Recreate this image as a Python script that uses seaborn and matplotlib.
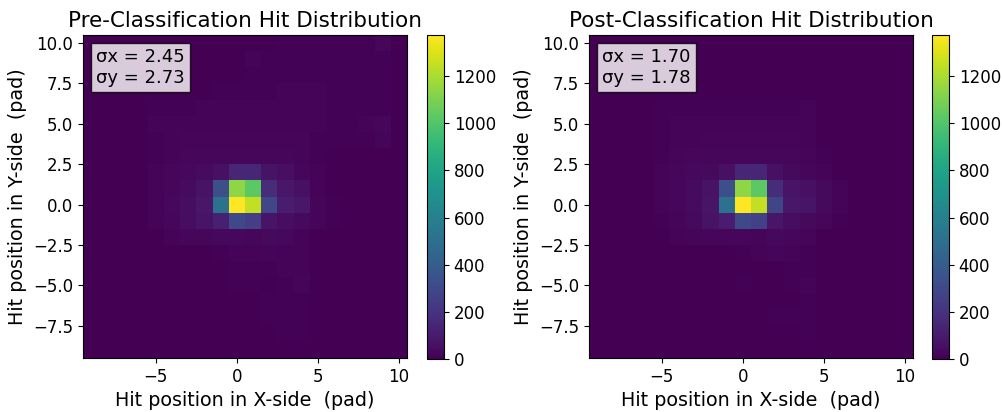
import matplotlib
matplotlib.use("Agg")
import matplotlib.pyplot as plt
import numpy as np
import seaborn as sns

# bin centres (pads); rows of the count tables run from y=10 (top) down to y=-9
X_CENTERS = list(range(-9, 11))
Y_CENTERS = list(range(10, -10, -1))

PRE_COUNTS = [
    [0, 0, 0, 0, 0, 0, 0, 0, 0, 0, 0, 0, 6, 6, 6, 6, 6, 6, 22, 0],
    [0, 0, 0, 0, 0, 0, 0, 0, 0, 0, 12, 6, 8, 8, 8, 6, 6, 8, 8, 0],
    [0, 0, 0, 0, 0, 0, 0, 0, 0, 0, 8, 8, 8, 8, 8, 8, 8, 8, 8, 0],
    [0, 0, 0, 0, 0, 0, 0, 0, 6, 6, 8, 8, 12, 12, 12, 8, 8, 10, 10, 0],
    [0, 0, 0, 0, 10, 10, 10, 12, 12, 12, 12, 12, 12, 12, 12, 6, 8, 10, 10, 0],
    [0, 0, 0, 0, 14, 14, 14, 14, 14, 14, 14, 14, 14, 14, 14, 6, 8, 14, 22, 0],
    [0, 0, 0, 0, 8, 16, 18, 18, 18, 18, 18, 18, 18, 18, 8, 6, 6, 8, 18, 0],
    [0, 0, 0, 0, 8, 16, 25, 25, 22, 25, 25, 25, 25, 20, 8, 4, 4, 4, 4, 0],
    [0, 0, 0, 0, 12, 22, 30, 40, 55, 150, 150, 65, 50, 25, 12, 4, 0, 0, 0, 0],
    [0, 0, 0, 0, 12, 22, 40, 65, 330, 1140, 1030, 170, 85, 55, 16, 4, 0, 0, 0, 0],
    [0, 0, 0, 0, 12, 30, 45, 85, 520, 1375, 1250, 290, 105, 85, 20, 6, 0, 0, 0, 0],
    [0, 0, 0, 0, 12, 25, 45, 75, 120, 300, 250, 75, 45, 35, 20, 8, 0, 0, 0, 0],
    [0, 0, 0, 0, 4, 16, 25, 25, 30, 30, 25, 35, 30, 16, 4, 0, 0, 0, 0, 0],
    [0, 0, 0, 0, 0, 0, 0, 0, 8, 12, 12, 20, 16, 12, 0, 0, 0, 0, 0, 0],
    [0, 0, 0, 0, 0, 0, 0, 0, 0, 8, 8, 10, 12, 12, 0, 0, 0, 0, 0, 0],
    [0, 0, 0, 0, 0, 0, 0, 0, 0, 8, 8, 4, 8, 18, 0, 0, 0, 0, 0, 0],
    [0, 0, 0, 0, 0, 0, 0, 0, 0, 0, 0, 6, 6, 10, 0, 0, 0, 0, 0, 0],
    [0, 0, 0, 0, 0, 0, 0, 0, 0, 0, 0, 10, 10, 8, 0, 0, 0, 0, 0, 0],
    [0, 0, 0, 0, 0, 0, 0, 0, 0, 0, 0, 0, 6, 6, 0, 0, 0, 0, 0, 0],
    [0, 0, 0, 0, 0, 0, 0, 0, 0, 0, 0, 0, 0, 0, 0, 0, 0, 0, 0, 0],
]

POST_COUNTS = [
    [0, 0, 0, 0, 0, 0, 0, 0, 0, 0, 0, 0, 0, 0, 0, 0, 0, 0, 0, 0],
    [0, 0, 0, 0, 0, 0, 0, 0, 0, 0, 0, 0, 0, 0, 0, 0, 0, 0, 0, 0],
    [0, 0, 0, 0, 0, 0, 0, 0, 0, 0, 0, 0, 0, 0, 0, 0, 0, 0, 0, 0],
    [0, 0, 0, 0, 4, 4, 4, 4, 4, 4, 4, 4, 4, 4, 0, 0, 0, 0, 0, 0],
    [0, 0, 0, 0, 8, 8, 10, 10, 10, 10, 10, 10, 10, 14, 0, 0, 0, 0, 0, 0],
    [0, 0, 0, 0, 10, 12, 12, 14, 14, 14, 14, 14, 12, 16, 0, 0, 0, 0, 0, 0],
    [0, 0, 0, 0, 6, 14, 16, 18, 18, 18, 18, 18, 18, 16, 0, 0, 0, 0, 0, 0],
    [0, 0, 0, 0, 8, 20, 24, 25, 24, 24, 25, 24, 24, 20, 6, 0, 0, 0, 0, 0],
    [0, 0, 0, 0, 12, 22, 30, 35, 55, 150, 150, 55, 35, 25, 12, 4, 0, 0, 0, 0],
    [0, 0, 0, 0, 16, 25, 40, 65, 330, 1140, 1030, 170, 75, 55, 35, 12, 0, 0, 0, 0],
    [0, 0, 0, 0, 12, 25, 40, 75, 520, 1375, 1250, 280, 85, 70, 35, 12, 4, 0, 0, 0],
    [0, 0, 0, 0, 6, 20, 35, 65, 110, 300, 260, 80, 45, 35, 25, 6, 0, 0, 0, 0],
    [0, 0, 0, 0, 4, 16, 20, 25, 25, 25, 20, 30, 25, 20, 4, 0, 0, 0, 0, 0],
    [0, 0, 0, 0, 0, 0, 0, 0, 0, 6, 12, 20, 12, 10, 0, 0, 0, 0, 0, 0],
    [0, 0, 0, 0, 0, 0, 0, 0, 0, 0, 0, 0, 6, 8, 0, 0, 0, 0, 0, 0],
    [0, 0, 0, 0, 0, 0, 0, 0, 0, 6, 0, 0, 8, 15, 0, 0, 0, 0, 0, 0],
    [0, 0, 0, 0, 0, 0, 0, 0, 0, 0, 0, 0, 0, 8, 0, 0, 0, 0, 0, 0],
    [0, 0, 0, 0, 0, 0, 0, 0, 0, 0, 0, 10, 10, 8, 0, 0, 0, 0, 0, 0],
    [0, 0, 0, 0, 0, 0, 0, 0, 0, 0, 0, 0, 0, 6, 0, 0, 0, 0, 0, 0],
    [0, 0, 0, 0, 0, 0, 0, 0, 0, 0, 0, 0, 0, 0, 0, 0, 0, 0, 0, 0],
]

TITLES = ["Pre-Classification Hit Distribution", "Post-Classification Hit Distribution"]
SIGMA_X = [2.45, 1.70]
SIGMA_Y = [2.73, 1.78]
X_TICKS = [-5, 0, 5, 10]
Y_TICKS = [10.0, 7.5, 5.0, 2.5, 0.0, -2.5, -5.0, -7.5]


def fmt(v, digits):
    s = f"{v:.{digits}f}"
    return s.replace("-", "\u2212")


def draw_panel(fig, rect, cbar_rect, counts, title, sx, sy):
    ax = fig.add_axes(rect)
    cax = fig.add_axes(cbar_rect)
    sns.heatmap(np.array(counts), cmap="viridis", vmin=0, ax=ax, cbar_ax=cax,
                xticklabels=False, yticklabels=False)

    # heatmap cells sit at integer offsets; map pad coordinates onto them
    x0 = X_CENTERS[0]
    y0 = Y_CENTERS[0]
    ax.set_xticks([t - x0 + 0.5 for t in X_TICKS])
    ax.set_xticklabels([fmt(t, 0) for t in X_TICKS], rotation=0, fontsize=12)
    ax.set_yticks([y0 - t + 0.5 for t in Y_TICKS])
    ax.set_yticklabels([fmt(t, 1) for t in Y_TICKS], rotation=0, fontsize=12)
    ax.tick_params(length=3.5, width=0.8)
    for sp in ax.spines.values():
        sp.set_visible(True)
        sp.set_linewidth(0.8)

    ax.set_title(title, fontsize=15.5)
    ax.set_xlabel("Hit position in X-side  (pad)", fontsize=13.8)
    ax.set_ylabel("Hit position in Y-side  (pad)", fontsize=13.8)
    ax.text(0.04, 0.96, f"\u03c3x = {sx:.2f}\n\u03c3y = {sy:.2f}",
            transform=ax.transAxes, va="top", ha="left", fontsize=13,
            bbox=dict(boxstyle="square,pad=0.3", facecolor="white", alpha=0.8, edgecolor="black"))

    cax.tick_params(labelsize=12, length=3.5, width=0.8)
    cb = ax.collections[0].colorbar
    cb.outline.set_linewidth(0.8)
    cb.outline.set_edgecolor("black")


W, H = 1003, 412
fig = plt.figure(figsize=(W / 100, H / 100), dpi=100)

draw_panel(fig, [83 / W, 54 / H, 324 / W, 323 / H], [427 / W, 53 / H, 17 / W, 324 / H],
           PRE_COUNTS, TITLES[0], SIGMA_X[0], SIGMA_Y[0])
draw_panel(fig, [589 / W, 54 / H, 324 / W, 323 / H], [932 / W, 53 / H, 17 / W, 324 / H],
           POST_COUNTS, TITLES[1], SIGMA_X[1], SIGMA_Y[1])

fig.savefig("out.png", dpi=100)
